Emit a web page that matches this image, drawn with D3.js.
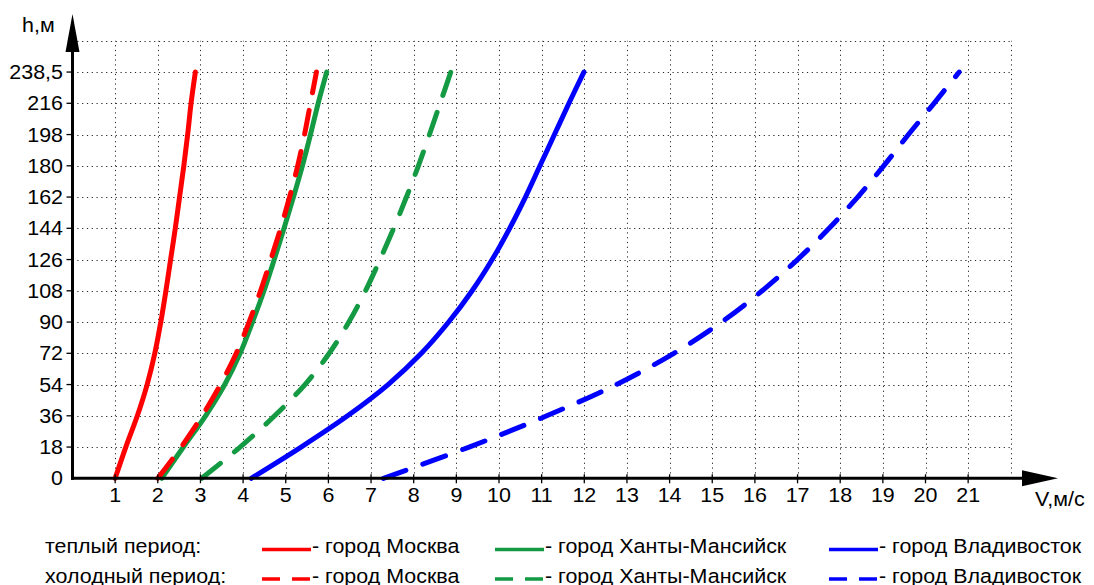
<!DOCTYPE html>
<html>
<head>
<meta charset="utf-8">
<script src="https://cdn.jsdelivr.net/npm/d3@7"></script>
<style>
  html, body { margin: 0; padding: 0; background: #fff; }
  svg { display: block; }
  text { font-family: "Liberation Sans", Arial, sans-serif; fill: #000; }
</style>
</head>
<body>
<svg id="chart" width="1094" height="585"></svg>
<script>
// Heights above ground (m) at which wind speed is given
const heights = [0, 18, 36, 54, 72, 90, 108, 126, 144, 162, 180, 198, 216, 238.5];

// Wind speed (m/s) per height, warm period
const moscowWarm     = [1.00, 1.25, 1.52, 1.75, 1.93, 2.07, 2.19, 2.30, 2.41, 2.51, 2.61, 2.70, 2.78, 2.88];
const khantyWarm     = [2.09, 2.60, 3.12, 3.57, 3.93, 4.22, 4.49, 4.73, 4.96, 5.18, 5.39, 5.58, 5.76, 5.96];
const vladivostokWarm= [4.19, 5.36, 6.45, 7.40, 8.18, 8.82, 9.37, 9.84, 10.25, 10.62, 10.96, 11.30, 11.64, 11.99];

// Wind speed (m/s) per height, cold period
const moscowCold     = [2.00, 2.55, 3.04, 3.47, 3.84, 4.14, 4.41, 4.65, 4.88, 5.09, 5.28, 5.44, 5.58, 5.72];
const khantyCold     = [3.03, 3.93, 4.74, 5.45, 6.02, 6.48, 6.87, 7.21, 7.53, 7.83, 8.11, 8.37, 8.62, 8.87];
const vladivostokCold= [7.29, 9.30, 11.12, 12.75, 14.10, 15.22, 16.17, 17.00, 17.74, 18.41, 19.02, 19.60, 20.20, 20.79];

// Axis ticks and labels
const xTicks = d3.range(1, 22);           // 1 … 21 m/s
const xGrid = d3.range(1, 23);            // grid runs one step past the last label
const yTicks = heights;                   // tick labels on the height axis
const yTop = 256.5;                       // upper grid line
const xTitle = "V,м/с";
const yTitle = "h,м";

// Legend text
const periods = ["теплый период:", "холодный период:"];
const cities = ["город Москва", "город Ханты-Мансийск", "город Владивосток"];

const RED = "#ff0000", GREEN = "#139a43", BLUE = "#0000ff";
const DASH = "24,18";

const series = [
  { v: moscowWarm,      color: RED,   dashed: false },
  { v: khantyWarm,      color: GREEN, dashed: false },
  { v: vladivostokWarm, color: BLUE,  dashed: false },
  { v: moscowCold,      color: RED,   dashed: true },
  { v: khantyCold,      color: GREEN, dashed: true },
  { v: vladivostokCold, color: BLUE,  dashed: true }
];

const svg = d3.select("#chart");

// Speed axis: 0 … 22 m/s
const x = d3.scaleLinear().domain([0, 22]).range([72.5, 72.5 + 22 * 42.65]);
// Height axis: even steps of 18 m, with the 238,5 m level sitting on the 13th step
const step = 31.25, y0 = 478.3;
const y = d3.scaleLinear()
  .domain([0, 216, 238.5, yTop])
  .range([y0, y0 - 12 * step, y0 - 13 * step, y0 - 14 * step]);

const FS = 19.5, SX = 1.1;
function label(g, tx, ty, str, anchor) {
  return g.append("text")
    .attr("transform", `translate(${tx},${ty}) scale(${SX},1)`)
    .attr("text-anchor", anchor || "start")
    .style("font-size", FS + "px")
    .text(str);
}

// Dotted grid
const grid = svg.append("g")
  .attr("stroke", "#000")
  .attr("stroke-width", 1)
  .attr("stroke-dasharray", "1.2,3.6")
  .attr("opacity", 0.85);
grid.selectAll("line.v").data(xGrid).join("line")
  .attr("class", "v")
  .attr("x1", d => Math.round(x(d)) + 0.5).attr("x2", d => Math.round(x(d)) + 0.5)
  .attr("y1", y(0)).attr("y2", y(yTop));
grid.selectAll("line.h").data(yTicks.slice(1).concat([yTop])).join("line")
  .attr("class", "h")
  .attr("y1", d => Math.round(y(d)) + 0.5).attr("y2", d => Math.round(y(d)) + 0.5)
  .attr("x1", x(0)).attr("x2", x(22));

// Wind-profile curves
const line = d3.line()
  .x(d => x(d[0]))
  .y(d => y(d[1]))
  .curve(d3.curveCatmullRom.alpha(0.5));

svg.append("g").selectAll("path").data(series).join("path")
  .attr("d", s => line(s.v.map((v, i) => [v, heights[i]])))
  .attr("fill", "none")
  .attr("stroke", s => s.color)
  .attr("stroke-width", 5)
  .attr("stroke-linecap", "round")
  .attr("stroke-linejoin", "round")
  .attr("stroke-dasharray", s => s.dashed ? DASH : null);

// Axes
const axes = svg.append("g");
const ax0 = x(0), ay0 = y(0);
axes.append("line")
  .attr("x1", ax0 - 1.5).attr("x2", 1024).attr("y1", ay0).attr("y2", ay0)
  .attr("stroke", "#000").attr("stroke-width", 3);
axes.append("path")
  .attr("d", `M1022,${ay0 - 8}L1058,${ay0}L1022,${ay0 + 8}Z`)
  .attr("fill", "#000");
axes.append("line")
  .attr("x1", ax0).attr("x2", ax0).attr("y1", ay0 + 1.5).attr("y2", 50)
  .attr("stroke", "#000").attr("stroke-width", 3);
axes.append("path")
  .attr("d", `M${ax0 - 7},52L${ax0},14L${ax0 + 7},52Z`)
  .attr("fill", "#000");

// Tick marks
axes.selectAll("line.xt").data(xTicks).join("line")
  .attr("class", "xt")
  .attr("x1", d => x(d)).attr("x2", d => x(d))
  .attr("y1", ay0 - 4).attr("y2", ay0 + 5)
  .attr("stroke", "#000").attr("stroke-width", 1.3);
axes.selectAll("line.yt").data(yTicks.slice(1)).join("line")
  .attr("class", "yt")
  .attr("y1", d => y(d)).attr("y2", d => y(d))
  .attr("x1", ax0 - 6).attr("x2", ax0)
  .attr("stroke", "#000").attr("stroke-width", 1.3);

// Tick labels
const tl = svg.append("g");
xTicks.forEach(d => label(tl, x(d), 502, String(d), "middle"));
yTicks.forEach(d => label(tl, 63, y(d) + 7, String(d).replace(".", ","), "end"));

// Axis titles
label(tl, 22, 32, yTitle, "start");
label(tl, 1035, 506, xTitle, "start");

// Legend
const lg = svg.append("g");
const rowY = [549.5, 579];
const lineX = [262, 495, 829];
const colors = [RED, GREEN, BLUE];
periods.forEach((p, r) => {
  label(lg, 45, rowY[r] + 3.5, p, "start");
  cities.forEach((c, i) => {
    lg.append("line")
      .attr("x1", lineX[i]).attr("x2", lineX[i] + 49)
      .attr("y1", rowY[r]).attr("y2", rowY[r])
      .attr("stroke", colors[i]).attr("stroke-width", 3.5)
      .attr("stroke-dasharray", r === 1 ? "18,12" : null);
    label(lg, lineX[i] + 50, rowY[r] + 3.5, "- " + c, "start");
  });
});
</script>
</body>
</html>
